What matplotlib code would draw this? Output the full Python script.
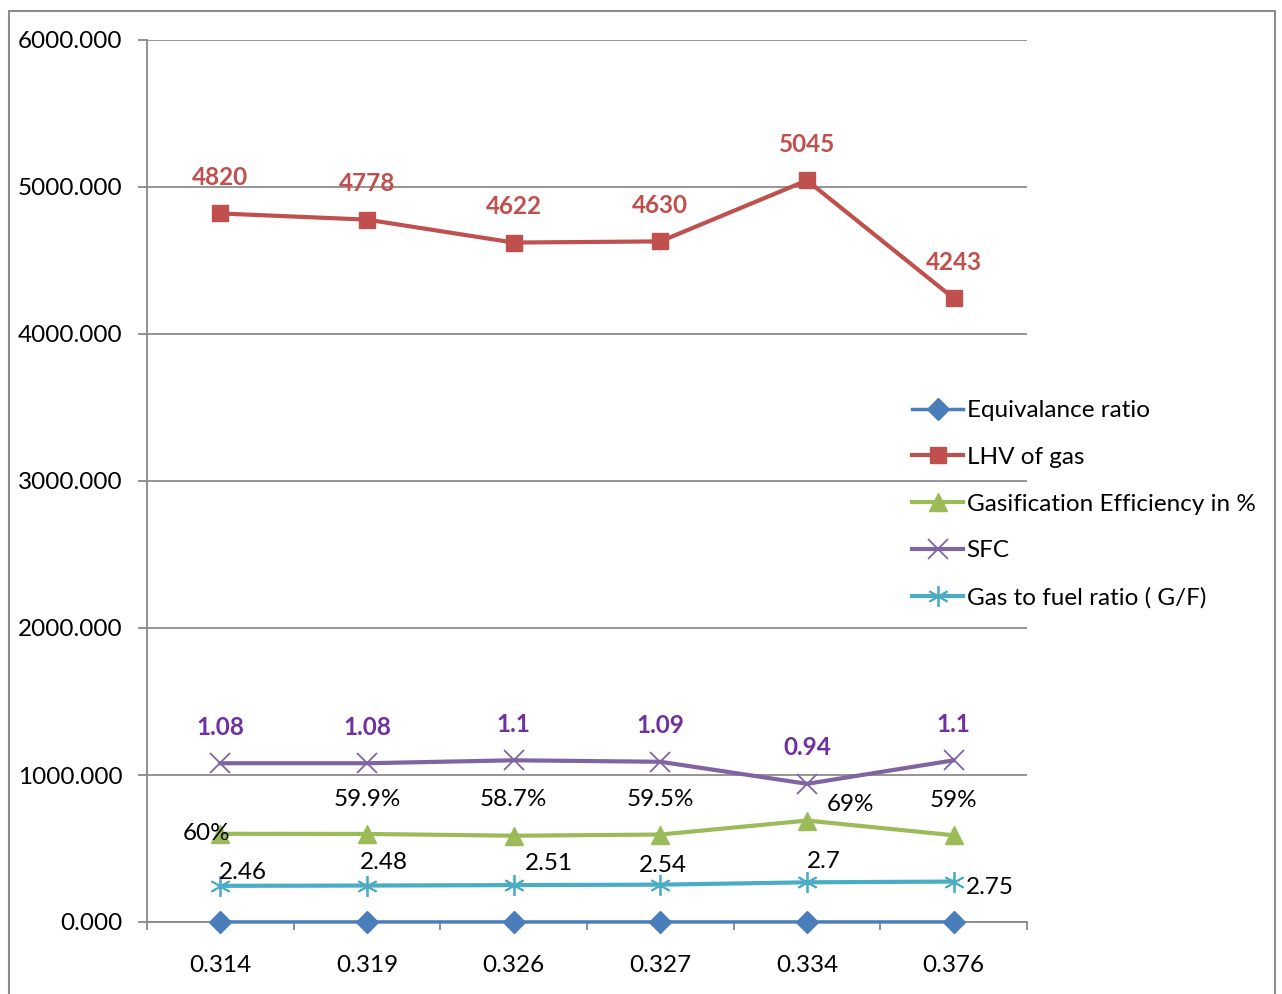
import matplotlib
matplotlib.use("Agg")
import matplotlib.pyplot as plt
from matplotlib.patches import Rectangle

plt.rcParams['font.family'] = ['Lato', 'DejaVu Sans']

categories = ['0.314', '0.319', '0.326', '0.327', '0.334', '0.376']
equiv_ratio = [0.314, 0.319, 0.326, 0.327, 0.334, 0.376]
lhv_gas = [4820, 4778, 4622, 4630, 5045, 4243]
gas_eff = [60, 59.9, 58.7, 59.5, 69, 59]          # %, plotted x10
sfc = [1.08, 1.08, 1.1, 1.09, 0.94, 1.1]         # plotted x1000
gf_ratio = [2.46, 2.48, 2.51, 2.54, 2.7, 2.75]    # plotted x100

yticks = [0, 1000, 2000, 3000, 4000, 5000, 6000]

# label offsets in pixels (Excel placed them by hand, more or less)
eff_off = [(-14, 0), (0, 34), (0, 36), (0, 35), (43, 16), (0, 35)]
gf_off = [(23, 13), (17, 23), (35, 22), (3, 19), (17, 21), (36, -6)]

blue = '#4A7EBB'
red = '#C0504D'
green = '#9BBB59'
purple = '#8064A2'
cyan = '#4BACC6'

fig = plt.figure(figsize=(12.82, 9.94), dpi=100)
ax = fig.add_axes([147 / 1282, 1 - 922 / 994, 880 / 1282, 882 / 994])

x = list(range(len(categories)))

ax.plot(x, equiv_ratio, color=blue, lw=2.5, marker='D', ms=11,
        label='Equivalance ratio', zorder=5, clip_on=False)
ax.plot(x, lhv_gas, color=red, lw=3, marker='s', ms=12,
        label='LHV of gas', zorder=5)
ax.plot(x, [v * 10 for v in gas_eff], color=green, lw=3, marker='^', ms=13,
        label='Gasification Efficiency in %', zorder=5)
ax.plot(x, [v * 1000 for v in sfc], color=purple, lw=3, marker='x', ms=14,
        mew=1.3, label='SFC', zorder=5)
ax.plot(x, [v * 100 for v in gf_ratio], color=cyan, lw=3, marker=(6, 2, 0),
        ms=15, mew=1.3, label='Gas to fuel ratio ( G/F)', zorder=5)

lab = 17.5
for i, v in enumerate(lhv_gas):
    ax.annotate(str(v), (i, v), xytext=(0, 36), textcoords='offset pixels',
                ha='center', va='center', fontsize=lab, fontweight='bold', color=red)
for i, v in enumerate(sfc):
    ax.annotate(f'{v:g}', (i, v * 1000), xytext=(0, 36), textcoords='offset pixels',
                ha='center', va='center', fontsize=lab, fontweight='bold', color='#7030A0')
for i, v in enumerate(gas_eff):
    ax.annotate(f'{v:g}%', (i, v * 10), xytext=eff_off[i], textcoords='offset pixels',
                ha='center', va='center', fontsize=lab, color='black', zorder=6)
for i, v in enumerate(gf_ratio):
    ax.annotate(f'{v:g}', (i, v * 100), xytext=gf_off[i], textcoords='offset pixels',
                ha='center', va='center', fontsize=lab, color='black', zorder=6)

ax.set_xlim(-0.5, len(categories) - 0.5)
ax.set_ylim(0, 6000)
ax.set_yticks(yticks)
ax.set_yticklabels([f'{t:.3f}' for t in yticks])
ax.set_xticks(x)
ax.set_xticklabels(categories)
ax.set_xticks([i - 0.5 for i in range(len(categories) + 1)], minor=True)

ax.tick_params(axis='x', which='major', length=0, pad=24, labelsize=17.5)
ax.tick_params(axis='x', which='minor', length=6, width=1.3, color='#888888')
ax.tick_params(axis='y', length=6.5, width=1.3, color='#888888', pad=11, labelsize=17.5)

ax.grid(axis='y', color='#8c8c8c', lw=1.3)
ax.set_axisbelow(True)
for s in ['top', 'right']:
    ax.spines[s].set_visible(False)
for s in ['left', 'bottom']:
    ax.spines[s].set_color('#888888')
    ax.spines[s].set_linewidth(1.3)

fig.legend(loc='upper left', bbox_to_anchor=(912 / 1282, 1 - 400 / 994),
           frameon=False, fontsize=17.5, handlelength=2.1, handletextpad=0.15,
           labelspacing=1.06, borderaxespad=0, borderpad=0)

fig.patches.append(Rectangle((9 / 1282, -0.05), 1266 / 1282, 1.05 - 11 / 994,
                             transform=fig.transFigure, fill=False,
                             edgecolor='#8c8c8c', lw=1.5))

fig.savefig('out.png', dpi=100)
